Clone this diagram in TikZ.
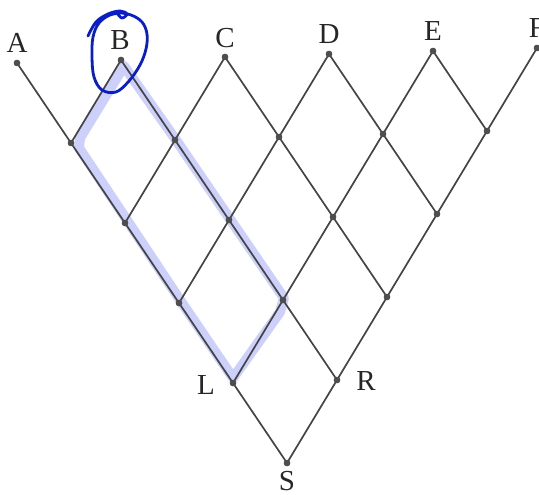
\documentclass[tikz,border=0pt]{standalone}
\usepackage{fontspec}
\setmainfont{Liberation Serif}
\definecolor{linec}{RGB}{68,68,68}
\definecolor{dotc}{RGB}{78,78,78}
\definecolor{hil}{RGB}{195,200,250}
\definecolor{penc}{RGB}{10,30,200}
\tikzset{
  dotnode/.style={circle,fill=dotc,inner sep=0pt,minimum size=6.5pt},
  edge/.style={draw=linec,line width=1.7pt},
  lab/.style={inner sep=0pt,font=\fontsize{29}{32}\selectfont,text=black!85},
}
\begin{document}
\begin{tikzpicture}[x=1pt,y=-1pt]
\useasboundingbox (0,0) rectangle (539,495);
% highlighter
\draw[hil,line width=10pt,line join=round,line cap=round,opacity=0.85]
  (124,66) -- (80,138) -- (79,148) -- (180,300) -- (233,378)
  -- (280,312) -- (284,298) -- (232,222) -- (176,140) -- (124,66);
% nodes
\foreach \p in {0,...,5}{
  \foreach \q in {0,...,\p}{
    \node[dotnode] (n-\p-\q) at ({17+54*\p+50*\q},{63+80*\p-83*\q}) {};
  }
}
% lines along down-right direction
\foreach \q in {0,...,4}{
  \foreach \p in {\q,...,4}{
    \pgfmathtruncatemacro{\pn}{\p+1}
    \draw[edge] (n-\p-\q.center) -- (n-\pn-\q.center);
  }
}
% lines along up-right direction
\foreach \p in {1,...,5}{
  \foreach \q in {1,...,\p}{
    \pgfmathtruncatemacro{\qm}{\q-1}
    \draw[edge] (n-\p-\qm.center) -- (n-\p-\q.center);
  }
}
% redraw dots on top
\foreach \p in {0,...,5}{
  \foreach \q in {0,...,\p}{
    \fill[dotc] (n-\p-\q) circle (3.2pt);
  }
}
% labels
\node[lab] (labA) at (17,43) {A};
\node[lab] (labB) at (120,40) {B};
\node[lab] (labC) at (225,38) {C};
\node[lab] (labD) at (329,34) {D};
\node[lab] (labE) at (433,31) {E};
\node[lab] (labF) at (537,28) {F};
\node[lab] (labL) at (206,385) {L};
\node[lab] (labR) at (366,381) {R};
\node[lab] (labS) at (287,481) {S};
% pen circle around B
\draw[penc,line width=2.8pt,line cap=round,line join=round]
  plot[smooth,tension=0.6] coordinates {(88,36) (96,22) (108,14) (120,11) (127,14) (122,18) (118,13) (131,15) (142,22) (147,34) (146,49) (140,65) (129,81) (116,92) (102,90) (94,77) (92,57) (93,37) (99,23) (110,15) (122,13)};
\end{tikzpicture}
\end{document}
